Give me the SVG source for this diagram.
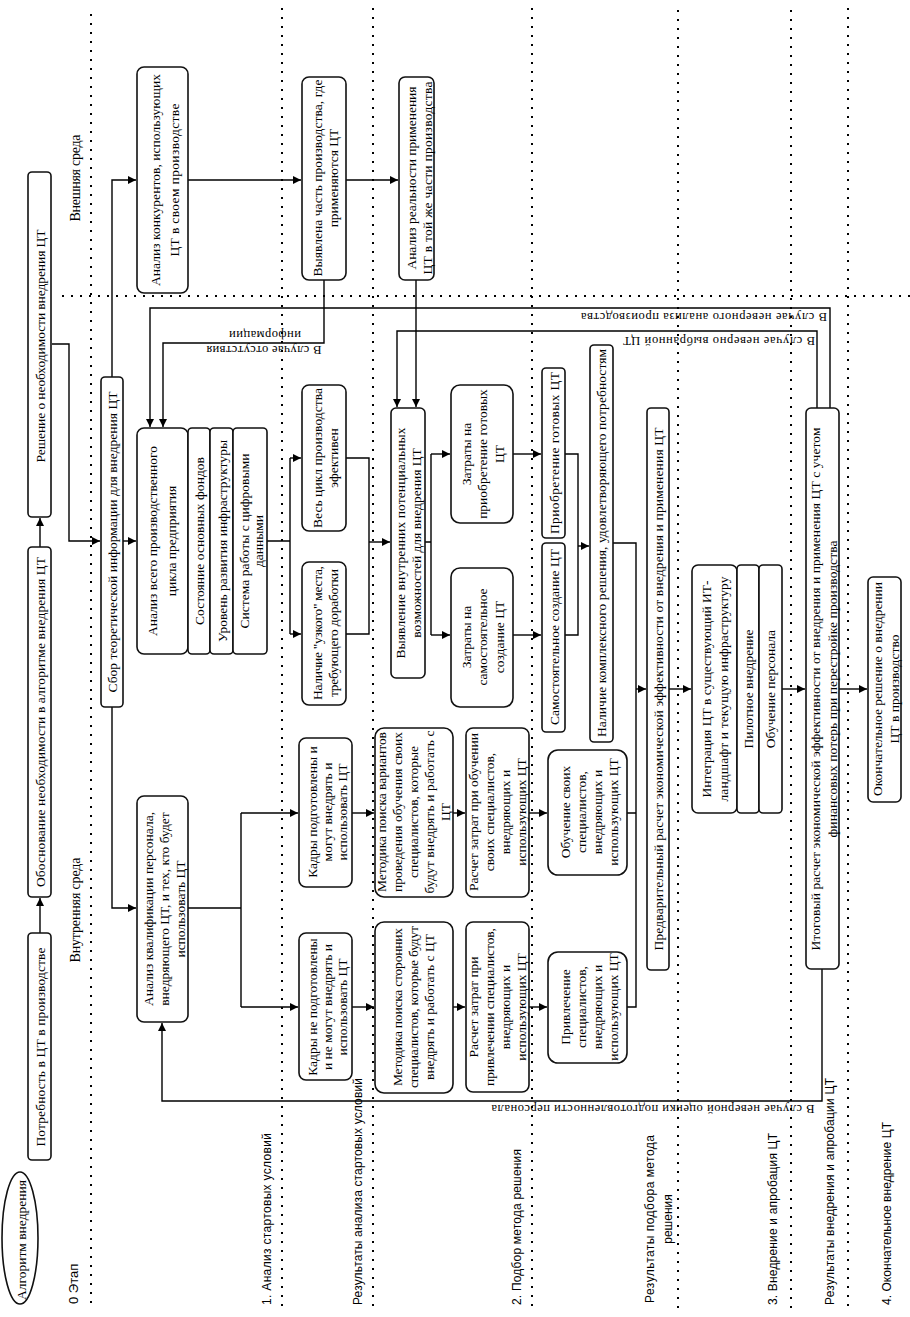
<svg xmlns="http://www.w3.org/2000/svg" width="910" height="1317" viewBox="0 0 910 1317">
<defs>
<marker id="ah" viewBox="0 0 10 10" refX="10" refY="5" markerWidth="9" markerHeight="8" markerUnits="userSpaceOnUse" orient="auto"><path d="M0,0 L10,5 L0,10 z" fill="#000"/></marker>
<style>
.b{fill:#fff;stroke:#111;stroke-width:1.6}
.t{font-family:"Liberation Serif","Times New Roman",serif;font-size:13.5px;fill:#000;text-anchor:middle;dominant-baseline:central}
.s{font-family:"Liberation Sans",Arial,sans-serif;font-size:12px;fill:#000;text-anchor:start;dominant-baseline:central}
.f{font-family:"Liberation Serif","Times New Roman",serif;font-size:12.5px;fill:#000;text-anchor:middle;dominant-baseline:central}
.c{fill:none;stroke:#000;stroke-width:1.4}
.a{fill:none;stroke:#000;stroke-width:1.4;marker-end:url(#ah)}
.d{fill:none;stroke:#000;stroke-width:2;stroke-dasharray:2 7}
</style>
</defs>
<rect width="910" height="1317" fill="#fff"/>

<g id="grid">
<path class="d" d="M91,14 V1308"/>
<path class="d" d="M282,8 V1310"/>
<path class="d" d="M373,8 V1308"/>
<path class="d" d="M532,8 V1310"/>
<path class="d" d="M678,10 V1310"/>
<path class="d" d="M791,10 V1310"/>
<path class="d" d="M848,8 V1308"/>
<path class="d" d="M62,296 H910"/>
</g>

<g id="labels">
<text class="t" style="font-size:14px" x="75" y="178" transform="rotate(-90 75 178)" textLength="87">Внешняя среда</text>
<text class="t" style="font-size:14px" x="75" y="910" transform="rotate(-90 75 910)" textLength="105">Внутренняя среда</text>
<text class="s" style="font-size:13px" x="73" y="1304" transform="rotate(-90 73 1304)">0 Этап</text>
<text class="s" x="267" y="1305" transform="rotate(-90 267 1305)" textLength="172">1. Анализ стартовых условий</text>
<text class="s" x="358" y="1305" transform="rotate(-90 358 1305)" textLength="227">Результаты анализа стартовых условий</text>
<text class="s" x="517" y="1305" transform="rotate(-90 517 1305)" textLength="156">2. Подбор метода решения</text>
<text class="s" x="650" y="1303" transform="rotate(-90 650 1303)" textLength="168">Результаты подбора метода</text>
<text class="s" style="text-anchor:middle" x="668" y="1219" transform="rotate(-90 668 1219)">решения</text>
<text class="s" x="773" y="1305" transform="rotate(-90 773 1305)" textLength="172">3. Внедрение и апробация ЦТ</text>
<text class="s" x="830" y="1305" transform="rotate(-90 830 1305)" textLength="227">Результаты внедрения и апробации ЦТ</text>
<text class="s" x="887" y="1305" transform="rotate(-90 887 1305)" textLength="183">4. Окончательное внедрение ЦТ</text>
</g>

<g id="connectors">
<path class="a" d="M40,933 V898"/>
<path class="a" d="M40,547 V518"/>
<path class="a" d="M52,344 H69 V541 H100"/>
<path class="a" d="M112,377 V180 H136"/>
<path class="a" d="M123,541 H136"/>
<path class="a" d="M112,707 V908 H136"/>
<path class="a" d="M188,180 H301"/>
<path class="a" d="M346,180 H398"/>
<path class="a" d="M324,280 V343 H163 V427"/>
<path class="a" d="M830,408 V308 H150 V427"/>
<path class="a" d="M817,408 V331 H397 V407"/>
<path class="a" d="M416,280 V407"/>
<path class="c" d="M267,541 H290 M290,458 V634"/>
<path class="a" d="M290,458 H301"/>
<path class="a" d="M290,634 H301"/>
<path class="c" d="M346,458 H369 V634 H346"/>
<path class="a" d="M369,542 H390"/>
<path class="c" d="M425,542 H431 M431,454 V635"/>
<path class="a" d="M431,454 H450"/>
<path class="a" d="M431,635 H450"/>
<path class="a" d="M513,454 H541"/>
<path class="a" d="M513,635 H541"/>
<path class="c" d="M565,454 H578 V635 H565"/>
<path class="a" d="M578,546 H589"/>
<path class="c" d="M613,543 H636 V1007 H627 M627,813 H636"/>
<path class="a" d="M636,689 H646"/>
<path class="a" d="M669,689 H691"/>
<path class="a" d="M782,689 H805"/>
<path class="a" d="M839,689 H867"/>
<path class="a" d="M822,969 V1101 H162 V1023"/>
<path class="c" d="M188,908 H241 M241,813 V1007"/>
<path class="a" d="M241,813 H298"/>
<path class="a" d="M241,1007 H298"/>
<path class="a" d="M352,813 H374"/>
<path class="a" d="M352,1007 H374"/>
<path class="a" d="M453,813 H465"/>
<path class="a" d="M453,1007 H465"/>
<path class="a" d="M529,813 H547"/>
<path class="a" d="M529,1007 H547"/>
<text class="f" x="704" y="317" transform="rotate(180 704 317)" textLength="246">В случае неверного анализа производства</text>
<text class="f" x="719" y="341" transform="rotate(180 719 341)" textLength="192">В случае неверно выбранной ЦТ</text>
<text class="f" x="264" y="350" transform="rotate(180 264 350)" textLength="115">В случае отсутствия</text>
<text class="f" x="265" y="335" transform="rotate(180 265 335)" textLength="72">информации</text>
<text class="f" x="653" y="1109" transform="rotate(180 653 1109)" textLength="323">В случае неверной оценки подготовленности персонала</text>
</g>

<g id="n_alg">
<ellipse class="b" cx="20" cy="1238" rx="18" ry="66"/>
<text class="t" x="21" y="1240" transform="rotate(-90 21 1240)" textLength="120">Алгоритм внедрения</text>
</g>
<g id="n_need">
<rect class="b" x="28" y="933" width="23" height="227" rx="4"/>
<text class="t" x="40" y="1047" transform="rotate(-90 40 1047)" textLength="199">Потребность в ЦТ в производстве</text>
</g>
<g id="n_just">
<rect class="b" x="28" y="547" width="23" height="350" rx="4"/>
<text class="t" x="40" y="722" transform="rotate(-90 40 722)" textLength="330">Обоснование необходимости в алгоритме внедрения ЦТ</text>
</g>
<g id="n_dec">
<rect class="b" x="28" y="172" width="23" height="345" rx="4"/>
<text class="t" x="40" y="346" transform="rotate(-90 40 346)" textLength="233">Решение о необходимости внедрения ЦТ</text>
</g>
<g id="n_collect">
<rect class="b" x="101" y="377" width="22" height="330" rx="4"/>
<text class="t" x="112" y="542" transform="rotate(-90 112 542)" textLength="301">Сбор теоретической информации для внедрения ЦТ</text>
</g>
<g id="n_comp">
<rect class="b" x="137" y="67" width="51" height="226" rx="7"/>
<text class="t" x="155" y="180" transform="rotate(-90 155 180)" textLength="212">Анализ конкурентов, использующих</text>
<text class="t" x="174" y="180" transform="rotate(-90 174 180)" textLength="153">ЦТ в своем производстве</text>
</g>
<g id="n_found">
<rect class="b" x="302" y="77" width="44" height="203" rx="7"/>
<text class="t" x="317" y="178" transform="rotate(-90 317 178)" textLength="197">Выявлена часть производства, где</text>
<text class="t" x="333" y="178" transform="rotate(-90 333 178)">применяются ЦТ</text>
</g>
<g id="n_real">
<rect class="b" x="399" y="77" width="35" height="203" rx="6"/>
<text class="t" x="411" y="178" transform="rotate(-90 411 178)" textLength="183">Анализ реальности применения</text>
<text class="t" x="427" y="178" transform="rotate(-90 427 178)" textLength="193">ЦТ в той же части производства</text>
</g>
<g id="n_cycle">
<rect class="b" x="137" y="428" width="51" height="226" rx="7"/>
<rect class="b" x="188" y="428" width="22" height="226" rx="4"/>
<rect class="b" x="210" y="428" width="23" height="226" rx="4"/>
<rect class="b" x="233" y="428" width="34" height="226" rx="4"/>
<text class="t" x="152" y="541" transform="rotate(-90 152 541)" textLength="190">Анализ всего производственного</text>
<text class="t" x="171" y="541" transform="rotate(-90 171 541)">цикла предприятия</text>
<text class="t" x="199" y="541" transform="rotate(-90 199 541)" textLength="168">Состояние основных фондов</text>
<text class="t" x="222" y="541" transform="rotate(-90 222 541)" textLength="202">Уровень развития инфраструктуры</text>
<text class="t" x="244" y="541" transform="rotate(-90 244 541)" textLength="175">Система работы с цифровыми</text>
<text class="t" x="258" y="541" transform="rotate(-90 258 541)">данными</text>
</g>
<g id="n_eff">
<rect class="b" x="302" y="385" width="44" height="146" rx="7"/>
<text class="t" x="317" y="458" transform="rotate(-90 317 458)" textLength="140">Весь цикл производства</text>
<text class="t" x="333" y="458" transform="rotate(-90 333 458)">эфективен</text>
</g>
<g id="n_bottle">
<rect class="b" x="302" y="562" width="44" height="143" rx="7"/>
<text class="t" x="317" y="633" transform="rotate(-90 317 633)" textLength="134">Наличие "узкого" места,</text>
<text class="t" x="333" y="633" transform="rotate(-90 333 633)" textLength="128">требующего доработки</text>
</g>
<g id="n_internal">
<rect class="b" x="391" y="408" width="34" height="270" rx="5"/>
<text class="t" x="400" y="543" transform="rotate(-90 400 543)" textLength="231">Выявление внутренних потенциальных</text>
<text class="t" x="416" y="543" transform="rotate(-90 416 543)">возможностей для внедрения ЦТ</text>
</g>
<g id="n_costbuy">
<rect class="b" x="451" y="385" width="62" height="138" rx="9"/>
<text class="t" x="466" y="454" transform="rotate(-90 466 454)">Затраты на</text>
<text class="t" x="482" y="454" transform="rotate(-90 482 454)">приобретение готовых</text>
<text class="t" x="499" y="454" transform="rotate(-90 499 454)">ЦТ</text>
</g>
<g id="n_costmake">
<rect class="b" x="451" y="568" width="62" height="139" rx="9"/>
<text class="t" x="466" y="637" transform="rotate(-90 466 637)">Затраты на</text>
<text class="t" x="482" y="637" transform="rotate(-90 482 637)">самостоятельное</text>
<text class="t" x="499" y="637" transform="rotate(-90 499 637)">создание ЦТ</text>
</g>
<g id="n_buy">
<rect class="b" x="542" y="368" width="23" height="170" rx="4"/>
<text class="t" x="554" y="453" transform="rotate(-90 554 453)" textLength="162">Приобретение готовых ЦТ</text>
</g>
<g id="n_make">
<rect class="b" x="542" y="543" width="23" height="189" rx="4"/>
<text class="t" x="554" y="637" transform="rotate(-90 554 637)">Самостоятельное создание ЦТ</text>
</g>
<g id="n_complex">
<rect class="b" x="590" y="345" width="23" height="397" rx="4"/>
<text class="t" x="601" y="543" transform="rotate(-90 601 543)" textLength="388">Наличие комплексного решения, удовлетворяющего потребностям</text>
</g>
<g id="n_prelim">
<rect class="b" x="647" y="408" width="22" height="562" rx="4"/>
<text class="t" x="658" y="689" transform="rotate(-90 658 689)" textLength="523">Предварительный расчет экономической эффективности от внедрения и применения ЦТ</text>
</g>
<g id="n_integr">
<rect class="b" x="692" y="565" width="45" height="248" rx="6"/>
<rect class="b" x="737" y="565" width="22" height="248" rx="4"/>
<rect class="b" x="759" y="565" width="23" height="248" rx="4"/>
<text class="t" x="706" y="689" transform="rotate(-90 706 689)">Интеграция ЦТ в существующий ИТ-</text>
<text class="t" x="723" y="689" transform="rotate(-90 723 689)" textLength="225">ландшафт и  текущую инфраструктуру</text>
<text class="t" x="748" y="689" transform="rotate(-90 748 689)">Пилотное внедрение</text>
<text class="t" x="770" y="689" transform="rotate(-90 770 689)">Обучение персонала</text>
</g>
<g id="n_final">
<rect class="b" x="806" y="408" width="33" height="561" rx="5"/>
<text class="t" x="815" y="689" transform="rotate(-90 815 689)" textLength="523">Итоговый расчет экономической эффективности от внедрения и применения ЦТ с учетом</text>
<text class="t" x="832" y="689" transform="rotate(-90 832 689)" textLength="297">финансовых потерь при перестройке производства</text>
</g>
<g id="n_decision">
<rect class="b" x="868" y="577" width="33" height="225" rx="5"/>
<text class="t" x="877" y="689" transform="rotate(-90 877 689)">Окончательное решение о внедрении</text>
<text class="t" x="894" y="689" transform="rotate(-90 894 689)">ЦТ в производство</text>
</g>
<g id="n_qual">
<rect class="b" x="137" y="796" width="51" height="226" rx="7"/>
<text class="t" x="148" y="909" transform="rotate(-90 148 909)">Анализ квалификации персонала,</text>
<text class="t" x="164" y="909" transform="rotate(-90 164 909)">внедряющего ЦТ, и тех, кто будет</text>
<text class="t" x="180" y="909" transform="rotate(-90 180 909)">использовать ЦТ</text>
</g>
<g id="n_ready">
<rect class="b" x="299" y="738" width="53" height="149" rx="7"/>
<text class="t" x="312" y="812" transform="rotate(-90 312 812)">Кадры подготовлены и</text>
<text class="t" x="327" y="812" transform="rotate(-90 327 812)">могут внедрять и</text>
<text class="t" x="342" y="812" transform="rotate(-90 342 812)">использовать ЦТ</text>
</g>
<g id="n_notready">
<rect class="b" x="299" y="933" width="53" height="147" rx="7"/>
<text class="t" x="312" y="1007" transform="rotate(-90 312 1007)">Кадры не подготовлены</text>
<text class="t" x="327" y="1007" transform="rotate(-90 327 1007)">и не могут внедрять и</text>
<text class="t" x="342" y="1007" transform="rotate(-90 342 1007)">использовать ЦТ</text>
</g>
<g id="n_method1">
<rect class="b" x="375" y="728" width="78" height="169" rx="9"/>
<text class="t" x="381" y="812" transform="rotate(-90 381 812)" textLength="160">Методика поиска вариантов</text>
<text class="t" x="397" y="812" transform="rotate(-90 397 812)" textLength="160">проведения обучения своих</text>
<text class="t" x="413" y="812" transform="rotate(-90 413 812)">специалистов, которые</text>
<text class="t" x="429" y="812" transform="rotate(-90 429 812)" textLength="163">будут внедрять и работать с</text>
<text class="t" x="445" y="812" transform="rotate(-90 445 812)">ЦТ</text>
</g>
<g id="n_method2">
<rect class="b" x="375" y="922" width="78" height="171" rx="9"/>
<text class="t" x="397" y="1007" transform="rotate(-90 397 1007)" textLength="158">Методика поиска сторонних</text>
<text class="t" x="413" y="1007" transform="rotate(-90 413 1007)" textLength="162">специалистов, которые будут</text>
<text class="t" x="429" y="1007" transform="rotate(-90 429 1007)">внедрять и работать с ЦТ</text>
</g>
<g id="n_calc1">
<rect class="b" x="466" y="728" width="63" height="169" rx="7"/>
<text class="t" x="473" y="812" transform="rotate(-90 473 812)" textLength="158">Расчет затрат при обучении</text>
<text class="t" x="489" y="812" transform="rotate(-90 489 812)">своих специалистов,</text>
<text class="t" x="505" y="812" transform="rotate(-90 505 812)">внедряющих и</text>
<text class="t" x="521" y="812" transform="rotate(-90 521 812)">использующих ЦТ</text>
</g>
<g id="n_calc2">
<rect class="b" x="466" y="922" width="63" height="170" rx="7"/>
<text class="t" x="473" y="1007" transform="rotate(-90 473 1007)">Расчет затрат при</text>
<text class="t" x="489" y="1007" transform="rotate(-90 489 1007)" textLength="158">привлечении специалистов,</text>
<text class="t" x="505" y="1007" transform="rotate(-90 505 1007)">внедряющих и</text>
<text class="t" x="521" y="1007" transform="rotate(-90 521 1007)">использующих ЦТ</text>
</g>
<g id="n_train">
<rect class="b" x="548" y="750" width="79" height="125" rx="10"/>
<text class="t" x="565" y="812" transform="rotate(-90 565 812)">Обучение своих</text>
<text class="t" x="581" y="812" transform="rotate(-90 581 812)">специалистов,</text>
<text class="t" x="597" y="812" transform="rotate(-90 597 812)">внедряющих и</text>
<text class="t" x="613" y="812" transform="rotate(-90 613 812)">использующих ЦТ</text>
</g>
<g id="n_hire">
<rect class="b" x="548" y="952" width="79" height="111" rx="10"/>
<text class="t" x="565" y="1007" transform="rotate(-90 565 1007)">Привлечение</text>
<text class="t" x="581" y="1007" transform="rotate(-90 581 1007)">специалистов,</text>
<text class="t" x="597" y="1007" transform="rotate(-90 597 1007)">внедряющих и</text>
<text class="t" x="613" y="1007" transform="rotate(-90 613 1007)">использующих ЦТ</text>
</g>
</svg>
